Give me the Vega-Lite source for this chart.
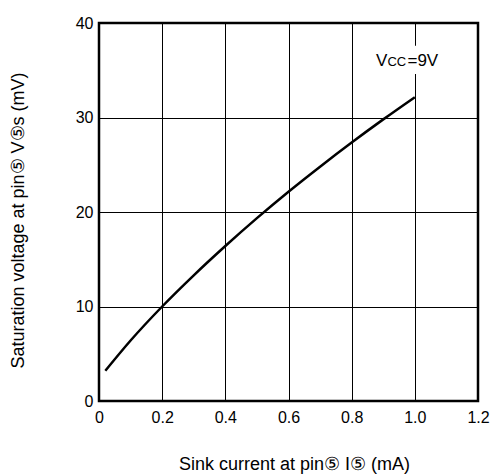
{
  "$schema": "https://vega.github.io/schema/vega-lite/v6.json",
  "width": 379,
  "height": 378,
  "autosize": {"type": "none"},
  "padding": {"left": 99, "top": 23, "right": 19, "bottom": 75},
  "background": "white",
  "config": {
    "view": {"stroke": "black", "strokeWidth": 2.5},
    "font": "Liberation Sans"
  },
  "layer": [
    {
      "data": {
        "values": [
          {"current": 0.02, "voltage": 3.2},
          {"current": 0.1, "voltage": 6.4},
          {"current": 0.2, "voltage": 10.0},
          {"current": 0.3, "voltage": 13.3},
          {"current": 0.4, "voltage": 16.4},
          {"current": 0.5, "voltage": 19.35},
          {"current": 0.6, "voltage": 22.15},
          {"current": 0.7, "voltage": 24.8},
          {"current": 0.8, "voltage": 27.35},
          {"current": 0.9, "voltage": 29.8},
          {"current": 1.0, "voltage": 32.15}
        ]
      },
      "mark": {"type": "line", "color": "black", "strokeWidth": 2.5, "interpolate": "monotone"},
      "encoding": {
        "x": {
          "field": "current",
          "type": "quantitative",
          "scale": {"domain": [0, 1.2], "nice": false, "zero": false},
          "axis": {
            "values": [0, 0.2, 0.4, 0.6, 0.8, 1.0, 1.2],
            "title": "Sink current at pin⑤ I⑤ (mA)",
            "grid": true,
            "gridColor": "black",
            "gridWidth": 1,
            "gridOpacity": 1,
            "domain": false,
            "ticks": false,
            "labelFontSize": 16,
            "labelColor": "black",
            "labelPadding": 8,
            "labelFlush": false,
            "labelExpr": "datum.value == 0 ? '0' : format(datum.value, '.1f')",
            "titleFontSize": 18,
            "titleFontWeight": "normal",
            "titleColor": "black",
            "titleX": 195,
            "titleY": 68,
            "titleBaseline": "alphabetic"
          }
        },
        "y": {
          "field": "voltage",
          "type": "quantitative",
          "scale": {"domain": [0, 40], "nice": false},
          "axis": {
            "values": [0, 10, 20, 30, 40],
            "title": "Saturation voltage at pin⑤ V⑤s  (mV)",
            "grid": true,
            "gridColor": "black",
            "gridWidth": 1,
            "gridOpacity": 1,
            "domain": false,
            "ticks": false,
            "labelFontSize": 16,
            "labelColor": "black",
            "labelPadding": 6,
            "labelFlush": false,
            "titleFontSize": 18,
            "titleFontWeight": "normal",
            "titleColor": "black",
            "titleX": -76,
            "titleY": 197,
            "titleBaseline": "alphabetic"
          }
        }
      }
    },
    {
      "data": {"values": [{"k": 1}]},
      "mark": {"type": "rect", "color": "white"},
      "encoding": {
        "x": {"datum": 0.9},
        "x2": {"datum": 1.1},
        "y": {"datum": 34.6},
        "y2": {"datum": 37.6}
      }
    },
    {
      "data": {"values": [{"t": "V"}]},
      "mark": {"type": "text", "align": "left", "baseline": "alphabetic", "fontSize": 17, "color": "black"},
      "encoding": {
        "x": {"datum": 0.877},
        "y": {"datum": 35.4},
        "text": {"field": "t"}
      }
    },
    {
      "data": {"values": [{"t": "CC"}]},
      "mark": {"type": "text", "align": "left", "baseline": "alphabetic", "fontSize": 13, "color": "black", "dx": 11.5},
      "encoding": {
        "x": {"datum": 0.877},
        "y": {"datum": 35.4},
        "text": {"field": "t"}
      }
    },
    {
      "data": {"values": [{"t": "=9V"}]},
      "mark": {"type": "text", "align": "left", "baseline": "alphabetic", "fontSize": 17, "color": "black", "dx": 31.5},
      "encoding": {
        "x": {"datum": 0.877},
        "y": {"datum": 35.4},
        "text": {"field": "t"}
      }
    }
  ]
}
